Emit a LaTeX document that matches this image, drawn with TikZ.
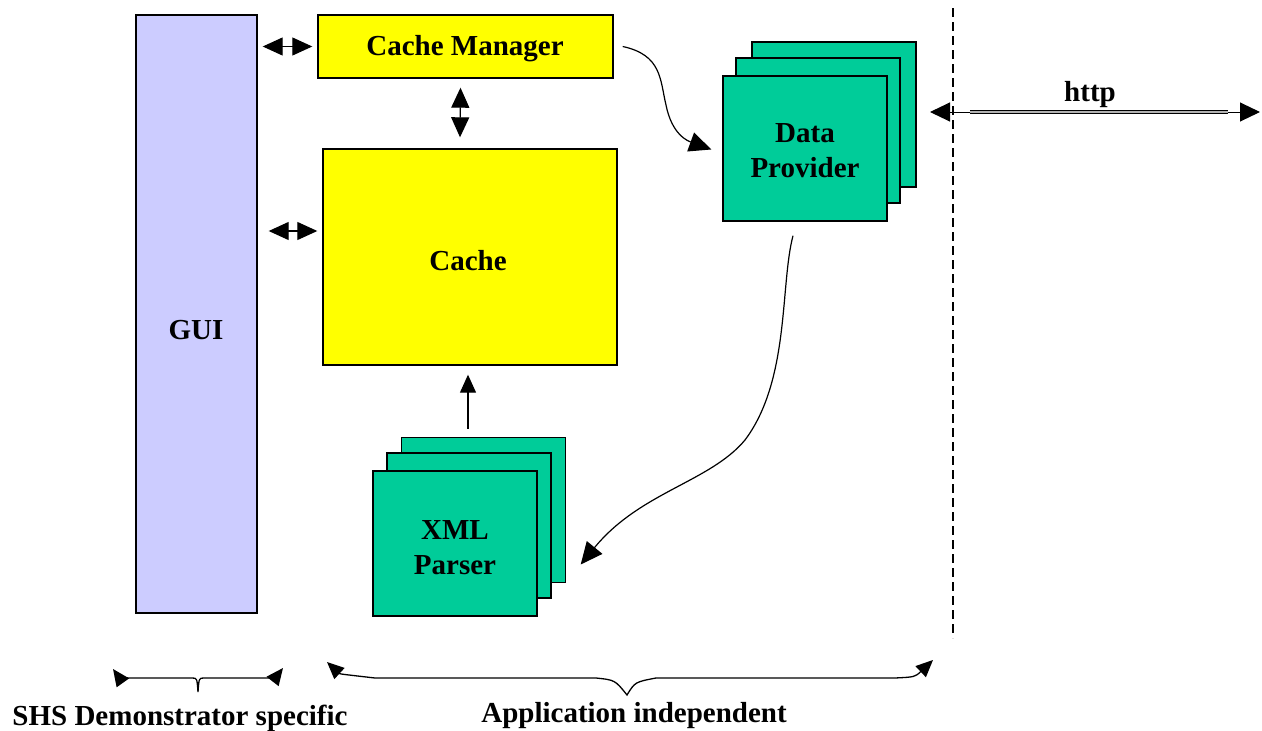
\documentclass[tikz,border=0pt]{standalone}
\usepackage{fontspec}
\setmainfont{Liberation Serif}
\usetikzlibrary{arrows.meta}
\definecolor{guiblue}{HTML}{CCCCFF}
\definecolor{cacheyellow}{HTML}{FFFF00}
\definecolor{procgreen}{HTML}{00CC99}
\tikzset{
  lbl/.style={font=\fontsize{29}{35}\selectfont\bfseries, align=center, inner sep=0pt},
  box/.style={draw=black, line width=1.4pt, inner sep=0pt},
  guibox/.style={box, fill=guiblue},
  ybox/.style={box, fill=cacheyellow},
  gbox/.style={box, fill=procgreen, minimum width=164pt, minimum height=145pt},
  link/.style={line width=1.2pt, {Triangle[length=20pt, width=18pt]}-{Triangle[length=20pt, width=18pt]}},
  flow/.style={line width=1.2pt, -{Triangle[length=22pt, width=20pt]}},
  brace/.style={line width=1.3pt, {Triangle[length=17pt, width=15pt]}-{Triangle[length=17pt, width=15pt]}},
}
\begin{document}
\begin{tikzpicture}[x=1pt, y=-1pt]
\useasboundingbox (0,0) rectangle (1262,731);

% left column: user interface
\node[guibox, minimum width=121pt, minimum height=598pt] (gui) at (196.5,314) {};
\node[lbl] (guitext) at (196,330) {GUI};

% cache and its manager
\node[ybox, minimum width=295pt, minimum height=63pt] (cm) at (465.5,46.5) {};
\node[lbl] (cmtext) at (465,49) {Cache Manager};
\node[ybox, minimum width=294pt, minimum height=216pt] (cache) at (470,257) {};
\node[lbl] (cachetext) at (468,261) {Cache};

% stacked data providers
\node[gbox] (dp3) at (834,114.5) {};
\node[gbox] (dp2) at (818,130.5) {};
\node[gbox] (dp1) at (805,148.5) {};
\node[lbl] (dptext) at (805,151) {Data\\Provider};

% stacked XML parsers
\node[gbox] (xml3) at (483.5,510) {};
\node[gbox] (xml2) at (469,525.5) {};
\node[gbox] (xml1) at (455,543.5) {};
\node[lbl] (xmltext) at (455,548) {XML\\Parser};

% interactions
\draw[link] ([xshift=5pt]gui.east |- cm.west) -- ([xshift=-5pt]cm.west);
\draw[link] ([xshift=11pt,yshift=26pt]gui.east |- cache.west) -- ([xshift=-5pt,yshift=26pt]cache.west);
\draw[link] ([xshift=-5pt,yshift=-9pt]cm.south) -- ([xshift=-10pt,yshift=11pt]cache.north);
\draw[line width=1.2pt, -{Triangle[length=18pt, width=16pt]}]
  ([xshift=-15.5pt,yshift=8pt]xml3.north) -- ([xshift=-2pt,yshift=-9pt]cache.south);

\draw[flow] ([xshift=9pt]cm.east) .. controls (662,55) and (660,80) .. (666,105)
  .. controls (672,135) and (688,141) .. ([xshift=-11pt,yshift=-1pt]dp1.west);
\draw[flow] ([xshift=-12pt,yshift=-14pt]dp1.south) .. controls (780,285) and (790,380) .. (745,440)
  .. controls (710,482) and (640,492) .. ([xshift=43pt,yshift=-21pt]xml1.east);

% network boundary
\coordinate (dtop) at (953,8);
\coordinate (dbot) at (953,638);
\draw[line width=1.2pt, dash pattern=on 9pt off 5pt] (dtop) -- (dbot);

% http link
\coordinate (hl) at (930,112);
\coordinate (hr) at (1260,112);
\coordinate (hdl) at (970,112);
\coordinate (hdr) at (1228,112);
\draw[line width=1pt, {Triangle[length=20pt, width=19pt]}-{Triangle[length=20pt, width=19pt]}] (hl) -- (hr);
\draw[line width=1.2pt, double=gray!60, double distance=2pt] (hdl) -- (hdr);
\node[lbl, anchor=base] (httplbl) at (1090,101) {http};

% scope braces
\coordinate (lb1) at (113,669);
\coordinate (lb2) at (283,668);
\draw[brace] (lb1) .. controls (118,676) .. (128,678) -- (192,678)
  .. controls (197,678) .. (198,692) .. controls (199,678) .. (204,678) -- (268,678)
  .. controls (276,677) .. (lb2);
\coordinate (rb1) at (327,662);
\coordinate (rb2) at (933,660);
\draw[brace] (rb1) .. controls (340,674) .. (375,678) -- (596,678)
  .. controls (615,680) .. (627,695) .. controls (635,682) .. (656,678) -- (895,678)
  .. controls (915,677) .. (rb2);

\node[lbl, anchor=base] (spec) at (180,725) {SHS Demonstrator specific};
\node[lbl, anchor=base] (indep) at (634,722) {Application independent};
\end{tikzpicture}
\end{document}
